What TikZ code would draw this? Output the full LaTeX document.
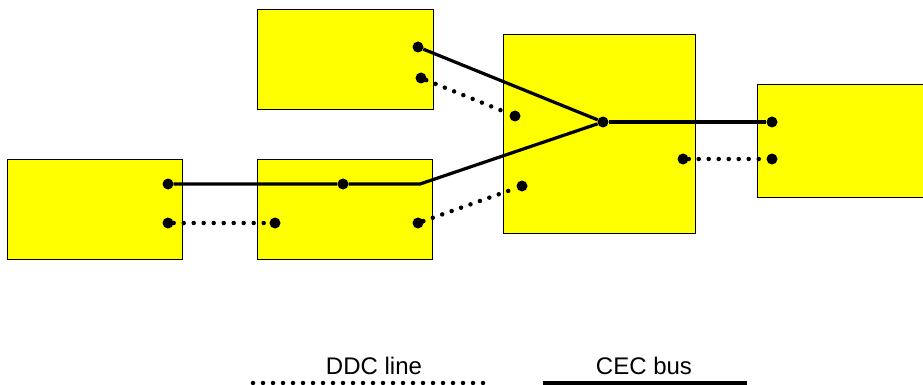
\documentclass[tikz,border=0pt]{standalone}
\usepackage{fontspec}
\setmainfont{Liberation Sans}
\definecolor{boxyellow}{RGB}{255,255,0}
\begin{document}
\begin{tikzpicture}[x=1pt,y=-1pt,
  box/.style={draw=black,line width=1pt,fill=boxyellow,anchor=north west,inner sep=0pt},
  port/.style={circle,fill=black,inner sep=0pt,minimum size=11pt},
  bus/.style={line width=3.2pt},
  ddc/.style={line width=4.5pt,line cap=round,dash pattern=on 0pt off 10pt}]
\useasboundingbox (0,0) rectangle (923,385);

\node[box,minimum width=176pt,minimum height=100pt] (boxA) at (257,9) {};
\node[box,minimum width=175pt,minimum height=100pt] (boxB) at (7,159) {};
\node[box,minimum width=175pt,minimum height=100pt] (boxC) at (257,159) {};
\node[box,minimum width=192pt,minimum height=199pt] (boxD) at (503,34) {};
\node[box,minimum width=190pt,minimum height=113pt] (boxE) at (757,84) {};

\node[port] (a1) at (418,47) {};
\node[port] (a2) at (421,78) {};
\node[port] (b1) at (168,184) {};
\node[port] (b2) at (168,223) {};
\node[port] (c1) at (343,184) {};
\node[port] (c2) at (418,223) {};
\node[port] (c3) at (275,223) {};
\node[port] (d1) at (515,116) {};
\node[port] (d2) at (522,186) {};
\node[port] (d3) at (683,159) {};
\node[port] (hub) at (603,122) {};
\node[port] (e1) at (772,122) {};
\node[port] (e2) at (772,159) {};
\coordinate (bend) at (420,184);

\draw[bus] (a1) -- (hub);
\draw[bus] (hub) -- (e1);
\draw[bus] (hub) -- (bend) -- (c1) -- (b1);

\draw[ddc] (a2) -- (d1);
\draw[ddc] (c2) -- (d2);
\draw[ddc] (b2) -- (c3);
\draw[ddc] (d3) -- (e2);

% legend
\node[anchor=base,font=\fontsize{24}{28}\selectfont] (ddclabel) at (374,374) {DDC line};
\node[anchor=base,font=\fontsize{24}{28}\selectfont] (ceclabel) at (644,374) {CEC bus};
\coordinate (ddcL) at (253,383);
\coordinate (ddcR) at (493,383);
\coordinate (cecL) at (543,383);
\coordinate (cecR) at (747,383);
\draw[ddc] (ddcL) -- (ddcR);
\draw[bus] (cecL) -- (cecR);
\end{tikzpicture}
\end{document}
